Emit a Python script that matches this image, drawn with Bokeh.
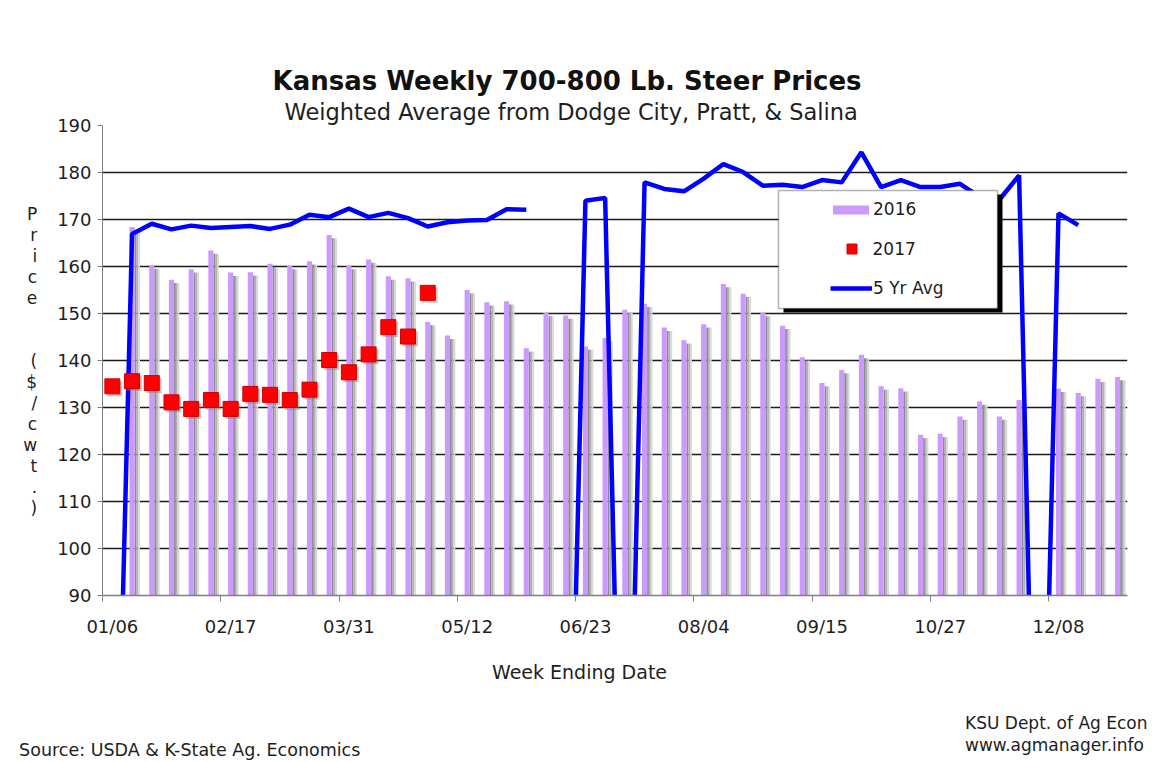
import numpy as np
from bokeh.plotting import figure
from bokeh.layouts import column
from bokeh.models import (Range1d, FixedTicker, Label, Legend, LegendItem, Title,
                          BoxAnnotation, ColumnDataSource, LinearAxis, Grid)
from bokeh.transform import dodge
from bokeh.embed import file_html
from bokeh.resources import INLINE

NaN = float("nan")

# ---------------- data ----------------
weeks = ["01/06", "01/13", "01/20", "01/27", "02/03", "02/10", "02/17", "02/24",
         "03/03", "03/10", "03/17", "03/24", "03/31", "04/07", "04/14", "04/21",
         "04/28", "05/05", "05/12", "05/19", "05/26", "06/02", "06/09", "06/16",
         "06/23", "06/30", "07/07", "07/14", "07/21", "07/28", "08/04", "08/11",
         "08/18", "08/25", "09/01", "09/08", "09/15", "09/22", "09/29", "10/06",
         "10/13", "10/20", "10/27", "11/03", "11/10", "11/17", "11/24", "12/01",
         "12/08", "12/15", "12/22", "12/29"]

price_2016 = [0, 168.4, 160.2, 157.2, 159.4, 163.4, 158.7, 158.8,
              160.6, 160.1, 161.1, 166.7, 160.1, 161.5, 157.9, 157.5,
              148.2, 145.3, 155.0, 152.4, 152.6, 142.6, 150.1, 149.6,
              143.0, 144.8, 150.8, 152.1, 147.0, 144.3, 147.7, 156.3,
              154.2, 150.1, 147.4, 140.7, 135.2, 138.0, 141.2, 134.5,
              134.1, 124.2, 124.4, 128.1, 131.3, 128.1, 131.6, 0,
              134.0, 133.1, 136.1, 136.5]

price_2017 = [134.5, 135.6, 135.2, 131.1, 129.7, 131.6, 129.7, 132.9,
              132.7, 131.6, 133.8, 140.1, 137.5, 141.3, 147.1, 145.1, 154.4]

avg_5yr = [0, 166.9, 169.1, 167.9, 168.7, 168.2, 168.4, 168.6,
           168.0, 168.9, 171.0, 170.5, 172.3, 170.5, 171.4, 170.3,
           168.5, 169.4, 169.8, 169.9, 172.2, 172.1, NaN, 0,
           174.0, 174.6, 0, 177.9, 176.5, 176.0, 178.7, 181.8,
           180.1, 177.2, 177.4, 176.9, 178.4, 177.9, 184.3, 176.9,
           178.4, 176.9, 176.9, 177.6, 174.8, 174.2, 179.4, 0,
           171.3, 168.8, NaN, NaN]

y_ticks = [90, 100, 110, 120, 130, 140, 150, 160, 170, 180, 190]
label_step = 6
series_names = ["2016", "2017", "5 Yr Avg"]

title_text = "Kansas Weekly 700-800 Lb. Steer Prices"
subtitle_text = "Weighted Average from Dodge City, Pratt, & Salina"
y_title_chars = ["P", "r", "i", "c", "e", " ", " ", "(", "$", "/", "c", "w", "t", ".", ")"]
x_title_text = "Week Ending Date"
source_text = "Source:  USDA & K-State Ag. Economics"
credit_lines = ["KSU Dept. of Ag Econ", "www.agmanager.info"]

# ---------------- layout helpers ----------------
FONT = "DejaVu Sans"
TXT = "#1e1e1e"
W, H_TOTAL = 1156, 762
H = 642                                     # main chart canvas height
FL, FR, FT, FB = 102, 29, 125, 47           # frame borders (px)
HF = H_TOTAL - H                            # footer canvas height
N = len(weeks)
frame_w = W - FL - FR
frame_h = H - FT - FB
YMIN, YMAX = y_ticks[0], y_ticks[-1]


def nx(px):  # canvas px -> x data
    return (px - FL) / frame_w * N


def ny(py):  # canvas px -> y value
    return YMAX - (py - FT) / frame_h * (YMAX - YMIN)


p = figure(width=W, height=H, x_range=Range1d(0, N), y_range=Range1d(YMIN, YMAX),
           output_backend="svg", toolbar_location=None, title=None,
           min_border_left=FL, min_border_right=FR, min_border_top=FT,
           min_border_bottom=FB)
p.outline_line_color = None
p.background_fill_color = "white"
p.border_fill_color = "white"

# titles (added nearest-first)
p.add_layout(Title(text=subtitle_text, align="left", offset=182, standoff=2,
                   text_font=FONT, text_font_size="22.5px",
                   text_font_style="normal", text_color=TXT), "above")
p.add_layout(Title(text=title_text, align="left", offset=170, standoff=0,
                   text_font=FONT, text_font_size="26px",
                   text_font_style="bold", text_color="#111111"), "above")

# y axis / grid
yax = p.yaxis[0]
yax.ticker = FixedTicker(ticks=y_ticks)
yax.axis_line_color = "#808080"
yax.major_tick_line_color = "#808080"
yax.major_tick_out = 5
yax.major_tick_in = 0
yax.minor_tick_line_color = None
yax.major_label_standoff = 6
yax.major_label_text_font = FONT
yax.major_label_text_font_size = "18px"
yax.major_label_text_color = TXT
yax.axis_label = "\n".join(y_title_chars)
yax.axis_label_text_font = FONT
yax.axis_label_text_font_size = "17px"
yax.axis_label_text_font_style = "normal"
yax.axis_label_text_color = TXT
yax.axis_label_text_line_height = 1.05
yax.axis_label_standoff = 17
if "axis_label_orientation" in yax.properties():
    yax.axis_label_orientation = "horizontal"
p.ygrid.grid_line_color = "#1a1a1a"
p.ygrid.grid_line_width = 1.6
p.xgrid.visible = False

# x axis: week labels at category centres, tick marks at category boundaries
label_idx = list(range(0, N, label_step))
xaxis = p.xaxis[0]
xaxis.ticker = FixedTicker(ticks=[i + 0.5 for i in label_idx], minor_ticks=label_idx)
xaxis.major_label_overrides = {i + 0.5: weeks[i] for i in label_idx}
xaxis.axis_line_color = "#808080"
xaxis.axis_line_width = 1.5
xaxis.major_tick_line_color = None
xaxis.major_tick_out = 0
xaxis.major_tick_in = 0
xaxis.minor_tick_line_color = "#808080"
xaxis.minor_tick_out = 6
xaxis.minor_tick_in = 0
xaxis.major_label_standoff = 14
xaxis.major_label_text_font = FONT
xaxis.major_label_text_font_size = "18px"
xaxis.major_label_text_color = TXT

# ---------------- glyphs ----------------
src = ColumnDataSource(dict(week=weeks,
                            pos=[i + 0.5 for i in range(N)],
                            v2016=np.array(price_2016, dtype=float),
                            avg=np.array(avg_5yr, dtype=float)))
src17 = ColumnDataSource(dict(week=weeks[:len(price_2017)],
                              pos=[i + 0.5 for i in range(len(price_2017))],
                              v2017=np.array(price_2017, dtype=float)))

# bar shadows (gradient imitation)
for off, col in [(0.175, "#8c8c8c"), (0.265, "#b0b0b0"), (0.355, "#d8d8d8")]:
    p.vbar(x=dodge("pos", off), top=dodge("v2016", -0.7),
           bottom=0, width=0.09, source=src, fill_color=col, line_color=None)

bars = p.vbar(x="pos", top="v2016", bottom=0, width=0.26, source=src,
              fill_color="#cc99ff", line_color=None)

avg_line = p.line(x="pos", y="avg", source=src, line_color="#0000ff",
                  line_width=4.5)

# square shadows then squares
p.scatter(x=dodge("pos", 0.12), y=dodge("v2017", -0.5),
          source=src17, marker="square", size=15, fill_color="#7a7a7a",
          fill_alpha=0.45, line_color=None)
sq = p.scatter(x="pos", y="v2017", source=src17, marker="square", size=15,
               fill_color="#ff0000", line_color="#d00000", line_width=1)

# ---------------- legend ----------------
box_l, box_r, box_t, box_b = 778, 997, 190, 308
p.add_layout(BoxAnnotation(left=nx(box_l + 5), right=nx(box_r + 5),
                           top=ny(box_t + 4), bottom=ny(box_b + 4),
                           fill_color="black", fill_alpha=1, line_color=None))
p.add_layout(BoxAnnotation(left=nx(box_l), right=nx(box_r),
                           top=ny(box_t), bottom=ny(box_b),
                           fill_color="white", fill_alpha=1,
                           line_color="black", line_width=1.5))


def mk_legend(name, rend, gx, gw, gh, cy, standoff):
    entry_h = max(gh, 20)
    fx = gx - FL
    fy = H - FB - (cy + entry_h / 2)
    return Legend(items=[LegendItem(label=name, renderers=[rend])],
                  location=(fx, fy), glyph_width=gw, glyph_height=gh,
                  label_height=gh, label_standoff=standoff, padding=0, margin=0,
                  spacing=0, border_line_color=None, background_fill_alpha=0,
                  label_text_font=FONT, label_text_font_size="17px",
                  label_text_color=TXT)


p.add_layout(mk_legend(series_names[0], bars, 828, 45, 11, 209, 0), "center")
p.add_layout(mk_legend(series_names[1], sq, 838.5, 25, 25, 248.5, 9), "center")
p.add_layout(mk_legend(series_names[2], avg_line, 830, 42, 12, 288, 1), "center")

# ---------------- footer (x-axis title, source, credits) ----------------
FOOT_FRAME_H = 69.5                         # estimated footer frame height
f = figure(width=W, height=HF, x_range=Range1d(FL, W - FR),
           y_range=Range1d(FOOT_FRAME_H, 0),
           output_backend="svg", toolbar_location=None, title=None,
           x_axis_location=None, y_axis_location=None, min_border=0)
f.outline_line_color = None
f.background_fill_color = "white"
f.border_fill_color = "white"

f.add_layout(Label(x=579, y=675 - H, text=x_title_text, text_align="center",
                   text_baseline="middle", text_font=FONT,
                   text_font_size="19px", text_color=TXT))

# credits: right-aligned two-line title under the footer frame
f.add_layout(Title(text="\n".join(credit_lines), align="right", offset=-20,
                   standoff=10, vertical_align="bottom", text_font=FONT,
                   text_font_size="17px", text_font_style="normal",
                   text_line_height=1.1, text_color=TXT), "below")

# source note: single labelled tick on an otherwise invisible footer axis
SRC_X = 192
src_axis = LinearAxis(ticker=FixedTicker(ticks=[SRC_X]),
                      major_label_overrides={SRC_X: source_text})
src_axis.axis_line_color = None
src_axis.major_tick_line_color = None
src_axis.minor_tick_line_color = None
src_axis.major_tick_out = 0
src_axis.major_tick_in = 0
src_axis.major_label_standoff = -20
src_axis.major_label_text_font = FONT
src_axis.major_label_text_font_size = "17.5px"
src_axis.major_label_text_color = TXT
f.add_layout(src_axis, "below")

# no grid lines in the footer strip
for obj in list(f.center) + list(f.renderers):
    if isinstance(obj, Grid):
        obj.visible = False
        obj.grid_line_color = None
f.xgrid.visible = False
f.ygrid.visible = False

layout = column(p, f, spacing=0)
open("out.html", "w").write(file_html(layout, INLINE))
